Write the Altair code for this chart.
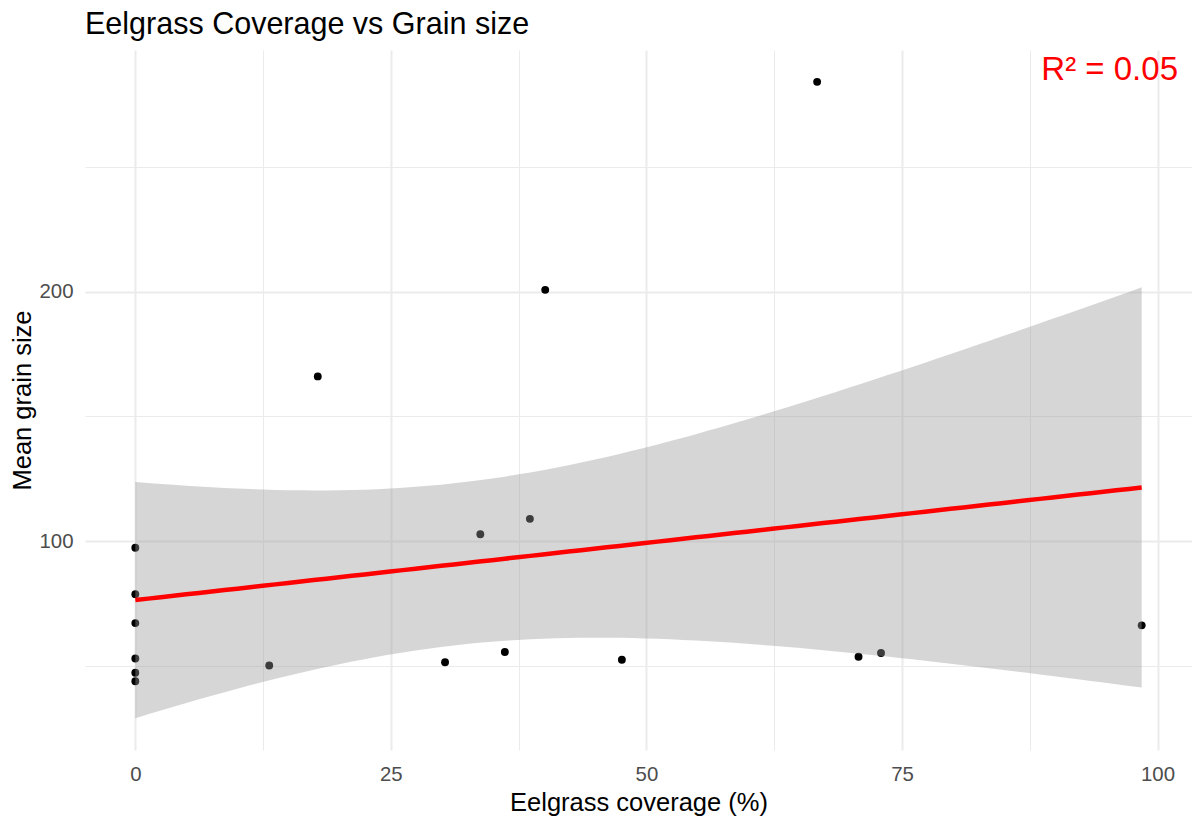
import altair as alt
import pandas as pd
import numpy as np

# Data
coverage = [0, 0, 0, 0, 0, 0, 13.1, 17.85, 30.3, 33.75, 36.15, 38.6, 40.1, 47.6, 66.7, 70.75, 72.95, 98.45]
grain = [97.3, 78.7, 67.1, 52.9, 47.2, 43.8, 50.1, 166.0, 51.4, 102.7, 55.5, 108.9, 200.7, 52.4, 284.1, 53.6, 55.1, 66.2]

x_ticks = [0, 12.5, 25, 37.5, 50, 62.5, 75, 87.5, 100]
y_ticks = [50, 100, 150, 200, 250]

# Linear model fit (like geom_smooth(method = "lm"))
x = np.array(coverage, dtype=float)
y = np.array(grain, dtype=float)
n = len(x)
mx, my = x.mean(), y.mean()
sxx = ((x - mx) ** 2).sum()
slope = ((x - mx) * (y - my)).sum() / sxx
icpt = my - slope * mx
resid = y - (icpt + slope * x)
s = np.sqrt((resid ** 2).sum() / (n - 2))
r2 = 1 - (resid ** 2).sum() / ((y - my) ** 2).sum()
T_CRIT = 2.119905  # t(0.975, df = n - 2 = 16)
gx = np.linspace(x.min(), x.max(), 80)
fit = icpt + slope * gx
se = s * np.sqrt(1 / n + (gx - mx) ** 2 / sxx)
lo = fit - T_CRIT * se
hi = fit + T_CRIT * se

pts = pd.DataFrame({"coverage": coverage, "grain": grain})
fitdf = pd.DataFrame({"coverage": gx, "fit": fit, "lo": lo, "hi": hi})

xr = x.max() - x.min()
xdom = [float(x.min() - 0.05 * xr), float(x.max() + 0.05 * xr)]
ylo = min(y.min(), lo.min())
yhi = max(y.max(), hi.max())
yr = yhi - ylo
ydom = [float(ylo - 0.05 * yr), float(yhi + 0.05 * yr)]

W, H = 1107, 700

xscale = alt.Scale(domain=xdom, nice=False, zero=False)
yscale = alt.Scale(domain=ydom, nice=False, zero=False)

xaxis = alt.Axis(
    values=x_ticks,
    labelExpr="datum.value % 25 === 0 ? datum.label : ''",
    gridWidth={"condition": {"test": "datum.value % 25 === 0", "value": 2}, "value": 1},
    labelPadding=14,
    titlePadding=6,
    labelFlush=False,
    labelOverlap=False,
)
yaxis = alt.Axis(
    values=y_ticks,
    labelExpr="datum.value % 100 === 0 ? datum.label : ''",
    gridWidth={"condition": {"test": "datum.value % 100 === 0", "value": 2}, "value": 1},
    labelPadding=12,
    titlePadding=3,
    labelFlush=False,
    labelOverlap=False,
)

points = alt.Chart(pts).mark_circle(size=62, color="black", opacity=1).encode(
    x=alt.X("coverage:Q", scale=xscale, axis=xaxis, title="Eelgrass coverage (%)"),
    y=alt.Y("grain:Q", scale=yscale, axis=yaxis, title="Mean grain size"),
)

band = alt.Chart(fitdf).mark_area(color="#999999", opacity=0.4).encode(
    x=alt.X("coverage:Q", scale=xscale),
    y=alt.Y("lo:Q", scale=yscale),
    y2="hi:Q",
)

line = alt.Chart(fitdf).mark_line(color="red", strokeWidth=4.5).encode(
    x=alt.X("coverage:Q", scale=xscale),
    y=alt.Y("fit:Q", scale=yscale),
)

label = alt.Chart(pd.DataFrame({"label": [f"R² = {r2:.2f}"]})).mark_text(
    color="red", font="Liberation Sans", fontSize=33, align="right", baseline="alphabetic"
).encode(text="label:N", x=alt.value(W - 14), y=alt.value(30))

chart = (
    alt.layer(points, band, line, label)
    .properties(
        width=W,
        height=H,
        autosize=alt.AutoSizeParams(type="none"),
        padding={"left": 77, "top": 42, "right": 0, "bottom": 74},
        title=alt.Title(
            "Eelgrass Coverage vs Grain size",
            anchor="start",
            frame="group",
            fontSize=30.5,
            font="Liberation Sans",
            fontWeight="normal",
            color="black",
            offset=10,
        ),
    )
    .configure_view(stroke=None)
    .configure_axis(
        labelFont="Liberation Sans",
        labelFontSize=20.4,
        labelColor="#4D4D4D",
        titleFont="Liberation Sans",
        titleFontSize=25.5,
        titleFontWeight="normal",
        titleColor="black",
        gridColor="#EBEBEB",
        ticks=False,
        tickSize=0,
        domain=False,
    )
)

chart.save("out.html", embed_options={"renderer": "svg", "actions": False})
